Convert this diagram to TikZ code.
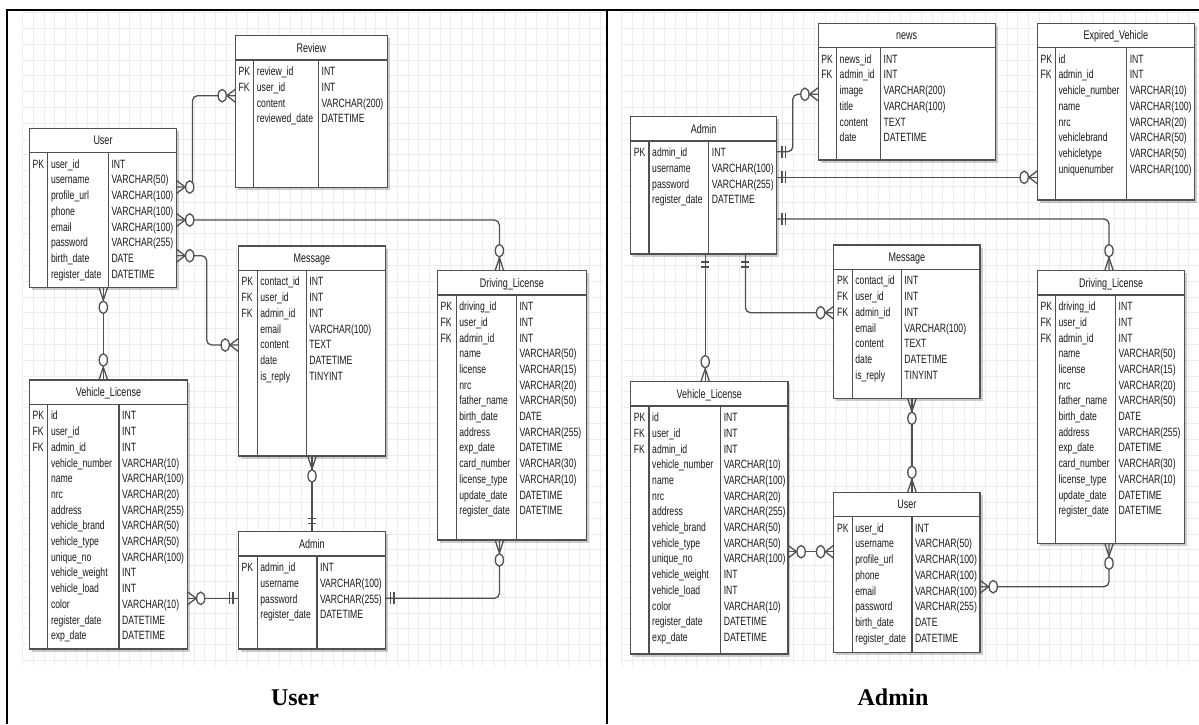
\documentclass[tikz,border=0pt]{standalone}
\usepackage{fontspec}
\setmainfont{Liberation Sans}
\newfontfamily\erdfont{Liberation Sans}[FakeStretch=0.72]
\newfontfamily\capfont{Liberation Serif}
\usetikzlibrary{calc,shadows}
\definecolor{erdgray}{HTML}{505050}
\definecolor{erdink}{HTML}{1A1A1A}
\definecolor{gridgray}{HTML}{EDEDED}

\tikzset{
  erd/.style={draw=erdgray, line width=1.2pt, fill=white, anchor=north west,
    inner sep=0pt, outer sep=0pt,
    drop shadow={shadow xshift=2.5pt, shadow yshift=-2.5pt, opacity=0.2, fill=black}},
  erdline/.style={draw=erdgray, line width=1.2pt},
  erdtitle/.style={anchor=base, inner sep=0pt, text=erdink,
    font=\erdfont\fontsize{12.5}{14}\selectfont},
  erdtext/.style={anchor=base west, inner sep=0pt, text=erdink,
    font=\erdfont\fontsize{12}{13}\selectfont},
  conn/.style={draw=erdgray, line width=1.3pt},
  gridline/.style={draw=gridgray, line width=0.8pt},
  panelcap/.style={anchor=base, inner sep=0pt, font=\capfont\bfseries\fontsize{24}{28}\selectfont},
  facing/.style={xscale=0.66, rotate=#1},
  pics/zmany/.style={code={
    \draw[conn] (0,6.5) -- (13,0) -- (0,-6.5);
    \draw[conn, fill=white] (20,0) circle (6.2);}},
  pics/onlyone/.style={code={
    \draw[conn] (8,6) -- (8,-6) (13,6) -- (13,-6);}},
}

% table: name, x, y, width, height, divider 1, divider 2, title
\newcommand{\erdbox}[8]{%
  \def\erdA{#6}\def\erdB{#7}%
  \node[erd, minimum width=#4pt, minimum height=#5pt] (#1) at (#2,#3) {};
  \node[erdtitle] (#1-t) at ($(#1.north)+(0,16.3)$) {#8};
  \draw[erdline] ($(#1.north west)+(0,24.3)$) -- ($(#1.north east)+(0,24.3)$);
  \draw[erdline] ($(#1.north west)+(#6,24.3)$) -- ($(#1.south west)+(#6,0)$);
  \draw[erdline] ($(#1.north west)+(#7,24.3)$) -- ($(#1.south west)+(#7,0)$);
}
% rows: name, keys, fields, types
\newcommand{\erdrows}[4]{%
  \foreach \e [count=\i] in {#2}
    \node[erdtext] (#1-k\i) at ($(#1.north west)+(3,24.2+\i*15.7)$) {\e};
  \foreach \e [count=\i] in {#3}
    \node[erdtext] (#1-f\i) at ($(#1.north west)+(\erdA+3,24.2+\i*15.7)$) {\e};
  \foreach \e [count=\i] in {#4}
    \node[erdtext] (#1-y\i) at ($(#1.north west)+(\erdB+3,24.2+\i*15.7)$) {\e};
}

\begin{document}
\begin{tikzpicture}[x=1pt, y=-1pt]
\useasboundingbox (0,0) rectangle (1199,724);

% grids
\foreach \gx in {0,...,54} {
  \draw[gridline] (22.7+\gx*10.7,10) -- (22.7+\gx*10.7,666);
  \draw[gridline] (621.7+\gx*10.7,10) -- (621.7+\gx*10.7,666);
}
\foreach \gy in {0,...,41} {
  \draw[gridline] (22.7,12.5+\gy*15.8) -- (606,12.5+\gy*15.8);
  \draw[gridline] (621.7,12.5+\gy*15.8) -- (1199,12.5+\gy*15.8);
}

% frame
\draw[line width=2pt] (7,724) -- (7,10) -- (1199,10);
\draw[line width=2pt] (607,10) -- (607,724);

% ---- user side ----
\erdbox{lReview}{235.4}{35.7}{152}{151.6}{18.3}{83}{Review}
\erdrows{lReview}{PK,FK}{review\_id,user\_id,content,reviewed\_date}{INT,INT,VARCHAR(200),DATETIME}

\erdbox{lUser}{29.5}{128.3}{147}{159}{18.3}{78.8}{User}
\erdrows{lUser}{PK}{user\_id,username,profile\_url,phone,email,password,birth\_date,register\_date}{INT,VARCHAR(50),VARCHAR(100),VARCHAR(100),VARCHAR(100),VARCHAR(255),DATE,DATETIME}

\erdbox{lMessage}{238.4}{246}{147}{210}{18.8}{67.8}{Message}
\erdrows{lMessage}{PK,FK,FK}{contact\_id,user\_id,admin\_id,email,content,date,is\_reply}{INT,INT,INT,VARCHAR(100),TEXT,DATETIME,TINYINT}

\erdbox{lDriving}{437.4}{270.7}{149}{269.3}{18.8}{78.9}{Driving\_License}
\erdrows{lDriving}{PK,FK,FK}{driving\_id,user\_id,admin\_id,name,license,nrc,father\_name,birth\_date,address,exp\_date,card\_number,license\_type,update\_date,register\_date}{INT,INT,INT,VARCHAR(50),VARCHAR(15),VARCHAR(20),VARCHAR(50),DATE,VARCHAR(255),DATETIME,VARCHAR(30),VARCHAR(10),DATETIME,DATETIME}

\erdbox{lVehicle}{29.5}{380}{158}{269}{18.3}{89.5}{Vehicle\_License}
\erdrows{lVehicle}{PK,FK,FK}{id,user\_id,admin\_id,vehicle\_number,name,nrc,address,vehicle\_brand,vehicle\_type,unique\_no,vehicle\_weight,vehicle\_load,color,register\_date,exp\_date}{INT,INT,INT,VARCHAR(10),VARCHAR(100),VARCHAR(20),VARCHAR(255),VARCHAR(50),VARCHAR(50),VARCHAR(100),INT,INT,VARCHAR(10),DATETIME,DATETIME}

\erdbox{lAdmin}{238.4}{531.7}{147}{117.3}{18.8}{78.5}{Admin}
\erdrows{lAdmin}{PK}{admin\_id,username,password,register\_date}{INT,VARCHAR(100),VARCHAR(255),DATETIME}

\coordinate (lu1) at ($(lUser.north east)+(0,58.7)$);
\coordinate (lr1) at ($(lReview.north west)+(0,60)$);
\coordinate (lu2) at ($(lUser.north east)+(0,91.7)$);
\coordinate (ld1) at ($(lDriving.north west)+(62,0)$);
\coordinate (lu3) at ($(lUser.north east)+(0,127.4)$);
\coordinate (lm1) at ($(lMessage.north west)+(0,99)$);
\coordinate (lu4) at ($(lUser.south west)+(73.8,0)$);
\coordinate (lv1) at ($(lVehicle.north west)+(73.8,0)$);
\coordinate (lm2) at ($(lMessage.south west)+(73.6,0)$);
\coordinate (la1) at ($(lAdmin.north west)+(73.6,0)$);
\coordinate (lv2) at ($(lVehicle.north east)+(0,218.3)$);
\coordinate (la2) at ($(lAdmin.north west)+(0,66.6)$);
\coordinate (la3) at ($(lAdmin.north east)+(0,66.6)$);
\coordinate (ld2) at ($(lDriving.south west)+(62,0)$);

\draw[conn, rounded corners=5pt] (lu1) -- ++(16,0) |- (lr1);
\draw[conn, rounded corners=5pt] (lu2) -| (ld1);
\draw[conn, rounded corners=5pt] (lu3) -- ++(30.2,0) |- (lm1);
\draw[conn] (lu4) -- (lv1);
\draw[conn] (lm2) -- (la1);
\draw[conn] (lv2) -- (la2);
\draw[conn, rounded corners=5pt] (la3) -| (ld2);

\pic[facing=0] at (lu1) {zmany};
\pic[facing=180] at (lr1) {zmany};
\pic[facing=0] at (lu2) {zmany};
\pic[facing=90] at (ld1) {zmany};
\pic[facing=0] at (lu3) {zmany};
\pic[facing=180] at (lm1) {zmany};
\pic[facing=-90] at (lu4) {zmany};
\pic[facing=90] at (lv1) {zmany};
\pic[facing=-90] at (lm2) {zmany};
\pic[facing=90] at (la1) {onlyone};
\pic[facing=0] at (lv2) {zmany};
\pic[facing=180] at (la2) {onlyone};
\pic[facing=0] at (la3) {onlyone};
\pic[facing=-90] at (ld2) {zmany};

% ---- admin side ----
\erdbox{rNews}{818.1}{23.3}{177.2}{136.7}{18.4}{62.4}{news}
\erdrows{rNews}{PK,FK}{news\_id,admin\_id,image,title,content,date}{INT,INT,VARCHAR(200),VARCHAR(100),TEXT,DATETIME}

\erdbox{rExpired}{1037.4}{23.3}{157}{176.7}{18}{89.2}{Expired\_Vehicle}
\erdrows{rExpired}{PK,FK}{id,admin\_id,vehicle\_number,name,nrc,vehiclebrand,vehicletype,uniquenumber}{INT,INT,VARCHAR(10),VARCHAR(100),VARCHAR(20),VARCHAR(50),VARCHAR(50),VARCHAR(100)}

\erdbox{rAdmin}{630.6}{116.7}{146.2}{137.3}{18.4}{78.1}{Admin}
\erdrows{rAdmin}{PK}{admin\_id,username,password,register\_date}{INT,VARCHAR(100),VARCHAR(255),DATETIME}

\erdbox{rMessage}{833.8}{245}{146.2}{153.3}{18.4}{67.4}{Message}
\erdrows{rMessage}{PK,FK,FK}{contact\_id,user\_id,admin\_id,email,content,date,is\_reply}{INT,INT,INT,VARCHAR(100),TEXT,DATETIME,TINYINT}

\erdbox{rDriving}{1037.4}{270.7}{147.4}{272.6}{18}{78.1}{Driving\_License}
\erdrows{rDriving}{PK,FK,FK}{driving\_id,user\_id,admin\_id,name,license,nrc,father\_name,birth\_date,address,exp\_date,card\_number,license\_type,update\_date,register\_date}{INT,INT,INT,VARCHAR(50),VARCHAR(15),VARCHAR(20),VARCHAR(50),DATE,VARCHAR(255),DATETIME,VARCHAR(30),VARCHAR(10),DATETIME,DATETIME}

\erdbox{rVehicle}{630.6}{381.7}{157.3}{272.3}{18.4}{90}{Vehicle\_License}
\erdrows{rVehicle}{PK,FK,FK}{id,user\_id,admin\_id,vehicle\_number,name,nrc,address,vehicle\_brand,vehicle\_type,unique\_no,vehicle\_weight,vehicle\_load,color,register\_date,exp\_date}{INT,INT,INT,VARCHAR(10),VARCHAR(100),VARCHAR(20),VARCHAR(255),VARCHAR(50),VARCHAR(50),VARCHAR(100),INT,INT,VARCHAR(10),DATETIME,DATETIME}

\erdbox{rUser}{833.8}{492.3}{146.2}{160.4}{18.4}{78.1}{User}
\erdrows{rUser}{PK}{user\_id,username,profile\_url,phone,email,password,birth\_date,register\_date}{INT,VARCHAR(50),VARCHAR(100),VARCHAR(100),VARCHAR(100),VARCHAR(255),DATE,DATETIME}

\coordinate (ra1) at ($(rAdmin.north east)+(0,35)$);
\coordinate (rn1) at ($(rNews.north west)+(0,71)$);
\coordinate (ra2) at ($(rAdmin.north east)+(0,60.6)$);
\coordinate (re1) at ($(rExpired.north west)+(0,154)$);
\coordinate (ra3) at ($(rAdmin.north east)+(0,102.3)$);
\coordinate (rd1) at ($(rDriving.north west)+(71.6,0)$);
\coordinate (ra4) at ($(rAdmin.south west)+(114.8,0)$);
\coordinate (rm1) at ($(rMessage.north west)+(0,67.7)$);
\coordinate (ra5) at ($(rAdmin.south west)+(74.6,0)$);
\coordinate (rv1) at ($(rVehicle.north west)+(74.6,0)$);
\coordinate (rm2) at ($(rMessage.south west)+(78.1,0)$);
\coordinate (ru1) at ($(rUser.north west)+(78.1,0)$);
\coordinate (rv2) at ($(rVehicle.north east)+(0,170)$);
\coordinate (ru2) at ($(rUser.north west)+(0,59.4)$);
\coordinate (ru3) at ($(rUser.north east)+(0,94.4)$);
\coordinate (rd2) at ($(rDriving.south west)+(71.6,0)$);

\draw[conn, rounded corners=5pt] (ra1) -- ++(16,0) |- (rn1);
\draw[conn] (ra2) -- (re1);
\draw[conn, rounded corners=5pt] (ra3) -| (rd1);
\draw[conn, rounded corners=5pt] (ra4) |- (rm1);
\draw[conn] (ra5) -- (rv1);
\draw[conn] (rm2) -- (ru1);
\draw[conn] (rv2) -- (ru2);
\draw[conn, rounded corners=5pt] (ru3) -| (rd2);

\pic[facing=0] at (ra1) {onlyone};
\pic[facing=180] at (rn1) {zmany};
\pic[facing=0] at (ra2) {onlyone};
\pic[facing=180] at (re1) {zmany};
\pic[facing=0] at (ra3) {onlyone};
\pic[facing=90] at (rd1) {zmany};
\pic[facing=-90] at (ra4) {onlyone};
\pic[facing=180] at (rm1) {zmany};
\pic[facing=-90] at (ra5) {onlyone};
\pic[facing=90] at (rv1) {zmany};
\pic[facing=-90] at (rm2) {zmany};
\pic[facing=90] at (ru1) {zmany};
\pic[facing=0] at (rv2) {zmany};
\pic[facing=180] at (ru2) {zmany};
\pic[facing=0] at (ru3) {zmany};
\pic[facing=-90] at (rd2) {zmany};

% captions
\node[panelcap] (capUser) at (295,705) {User};
\node[panelcap] (capAdmin) at (893,705) {Admin};
\end{tikzpicture}
\end{document}
